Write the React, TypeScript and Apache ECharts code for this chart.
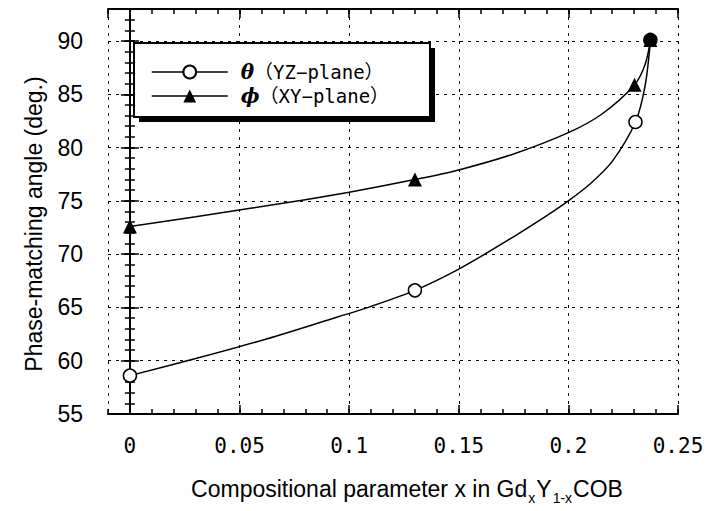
import React, { useEffect, useRef } from "react";
import * as echarts from "echarts";

// measured data points
const xTheta = [0, 0.13, 0.2306, 0.2374];
const yTheta = [58.6, 66.6, 82.4, 90.1];
const xPhi = [0, 0.13, 0.2302, 0.2374];
const yPhi = [72.6, 77.0, 85.9, 90.1];

// fitted curves
const xThetaCurve = [0, 0.03, 0.06, 0.09, 0.11, 0.13, 0.15, 0.17, 0.19, 0.2, 0.21, 0.22, 0.2306, 0.235, 0.2374];
const yThetaCurve = [58.6, 60.2, 61.9, 63.8, 65.1, 66.6, 68.6, 71.0, 73.6, 75.0, 76.6, 78.7, 82.4, 85.8, 90.0];
const xPhiCurve = [0, 0.03, 0.055, 0.08, 0.1, 0.13, 0.15, 0.175, 0.2, 0.215, 0.2302, 0.235, 0.2374];
const yPhiCurve = [72.6, 73.5, 74.3, 75.1, 75.8, 77.0, 77.9, 79.4, 81.4, 83.1, 85.9, 87.8, 90.0];

const xMin = -0.01;
const xMax = 0.25;
const yMin = 55;
const yMax = 93;

const nameTheta = "θ（YZ−plane）";
const namePhi = "ϕ（XY−plane）";
const yTitle = "Phase-matching angle (deg.)";

export default function App() {
  const ref = useRef<HTMLDivElement>(null);
  useEffect(() => {
    if (!ref.current) return;
    const chart = echarts.init(ref.current, undefined, { renderer: "svg" });
    const black = "#000";
    const grid = { left: 108, right: 29, top: 9, bottom: 97 };
    const frameLine = { show: true, lineStyle: { color: black, width: 2 } };
    const dashed = { show: true, lineStyle: { color: black, width: 1, type: [3, 5] as any } };
    const majorX = (pos: string, labels: boolean) => ({
      type: "value",
      position: pos,
      min: xMin,
      max: xMax,
      splitNumber: 5,
      axisLine: frameLine,
      axisTick: { show: true, inside: true, length: 9, lineStyle: { color: black, width: 1.5 } },
      axisLabel: labels
        ? { show: true, showMinLabel: false, color: black, fontFamily: "DejaVu Sans Mono", fontSize: 21, margin: 21 }
        : { show: false },
      splitLine: labels ? dashed : { show: false },
    });
    const minorX = (pos: string) => ({
      type: "value",
      position: pos,
      min: xMin,
      max: xMax,
      interval: 0.01,
      axisLine: { show: false },
      axisTick: { show: true, inside: true, length: 5, lineStyle: { color: black, width: 1.5 } },
      axisLabel: { show: false },
      splitLine: { show: false },
    });
    const majorY = (pos: string, labels: boolean) => ({
      type: "value",
      position: pos,
      min: yMin,
      max: yMax,
      interval: 5,
      axisLine: frameLine,
      axisTick: { show: true, inside: true, length: 9, lineStyle: { color: black, width: 1.5 } },
      axisLabel: labels
        ? { show: true, showMaxLabel: false, color: black, fontFamily: "Liberation Sans", fontSize: 23, margin: 25 }
        : { show: false },
      splitLine: labels ? dashed : { show: false },
    });
    const minorY = (pos: string) => ({
      type: "value",
      position: pos,
      min: yMin,
      max: yMax,
      interval: 1,
      axisLine: { show: false },
      axisTick: { show: true, inside: true, length: 5, lineStyle: { color: black, width: 1.5 } },
      axisLabel: { show: false },
      splitLine: { show: false },
    });

    const thetaData = xTheta.map((x, i) =>
      i === xTheta.length - 1 ? { value: [x, yTheta[i]], itemStyle: { color: black } } : [x, yTheta[i]]
    );
    const phiData = xPhi.map((x, i) => [x, yPhi[i]]);
    const thetaCurve = xThetaCurve.map((x, i) => [x, yThetaCurve[i]]);
    const phiCurve = xPhiCurve.map((x, i) => [x, yPhiCurve[i]]);

    chart.setOption({
      animation: false,
      backgroundColor: "#fff",
      grid,
      xAxis: [majorX("bottom", true), minorX("bottom"), majorX("top", false), minorX("top")],
      yAxis: [majorY("left", true), minorY("left"), majorY("right", false), minorY("right")],
      legend: {
        show: true,
        orient: "vertical",
        left: 151,
        top: 61,
        padding: 0,
        itemWidth: 76,
        itemHeight: 16,
        itemGap: 2,
        z: 10,
        lineStyle: { color: black, width: 1.5, opacity: 1 },
        formatter: (name: string) =>
          name === nameTheta ? "{g|θ}{t|（YZ−plane）}" : "{g|ϕ}{t|（XY−plane）}",
        textStyle: {
          color: black,
          fontSize: 20,
          lineHeight: 22,
          fontFamily: "DejaVu Sans Mono, Noto Sans CJK JP",
          padding: [0, 0, 0, 8],
          rich: {
            g: {
              fontFamily: "DejaVu Serif",
              fontStyle: "italic",
              fontWeight: "bold",
              fontSize: 20,
              color: black,
              lineHeight: 22,
            },
            t: {
              fontFamily: "DejaVu Sans Mono, Noto Sans CJK JP",
              fontSize: 19,
              color: black,
              lineHeight: 22,
            },
          },
        },
        data: [nameTheta, namePhi],
      },
      graphic: [
        { type: "rect", z: 3, shape: { x: 139, y: 48, width: 296, height: 74 }, style: { fill: black } },
        {
          type: "rect",
          z: 4,
          shape: { x: 134, y: 43, width: 296, height: 74 },
          style: { fill: "#fff", stroke: black, lineWidth: 2 },
        },
        {
          type: "text",
          z: 5,
          x: 34,
          y: 224,
          rotation: Math.PI / 2,
          style: {
            text: yTitle,
            fill: black,
            fontSize: 23,
            fontFamily: "Liberation Sans",
            align: "center",
            verticalAlign: "middle",
          },
        },
        {
          type: "text",
          z: 5,
          x: 407,
          y: 489,
          style: {
            text: "Compositional parameter x in Gd{s|x}Y{s|1-x}COB",
            fill: black,
            fontSize: 23,
            fontFamily: "Liberation Sans",
            align: "center",
            verticalAlign: "middle",
            rich: {
              s: { fontSize: 14, fontFamily: "Liberation Sans", fill: black, padding: [17, 1, 0, 1] },
            },
          },
        },
      ],
      series: [
        {
          name: "theta-curve",
          type: "line",
          data: thetaCurve,
          smooth: 0.3,
          showSymbol: false,
          symbol: "none",
          lineStyle: { color: black, width: 1.5 },
          z: 2,
        },
        {
          name: "phi-curve",
          type: "line",
          data: phiCurve,
          smooth: 0.3,
          showSymbol: false,
          symbol: "none",
          lineStyle: { color: black, width: 1.5 },
          z: 2,
        },
        {
          name: nameTheta,
          type: "line",
          data: thetaData,
          symbol: "circle",
          symbolSize: 13,
          itemStyle: { color: "#fff", borderColor: black, borderWidth: 1.5 },
          lineStyle: { color: black, width: 0, opacity: 0 },
          z: 3,
        },
        {
          name: namePhi,
          type: "line",
          data: phiData,
          symbol: "triangle",
          symbolSize: 14,
          itemStyle: { color: black },
          lineStyle: { color: black, width: 0, opacity: 0 },
          z: 4,
        },
      ],
    });
    return () => chart.dispose();
  }, []);
  return (
    <div
      ref={ref}
      style={{ position: "fixed", left: 0, top: 0, width: 707, height: 511, background: "#fff" }}
    />
  );
}
